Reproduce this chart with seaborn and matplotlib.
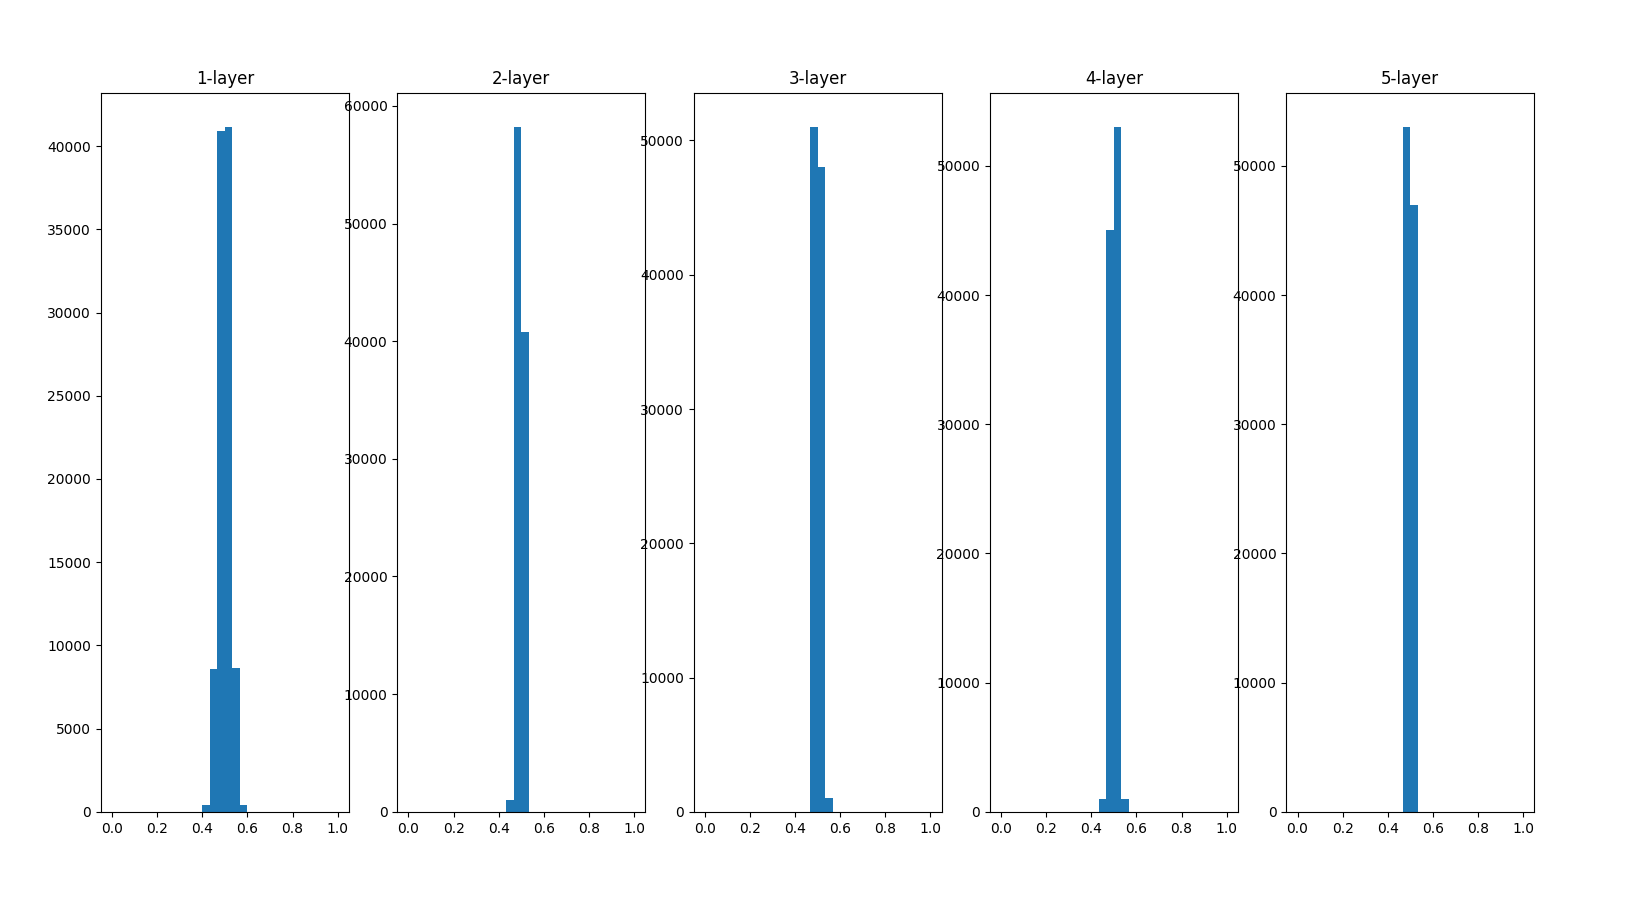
import matplotlib
matplotlib.use("Agg")
import matplotlib.pyplot as plt
import seaborn as sns
import numpy as np

plt.rcParams['font.family'] = ['DejaVu Sans']

titles = ["1-layer", "2-layer", "3-layer", "4-layer", "5-layer"]
bin_w = 1/30
# bin indices (0..29) of nonzero bins and their counts
bins_idx = [
    [12, 13, 14, 15, 16, 17],
    [13, 14, 15],
    [14, 15, 16],
    [13, 14, 15, 16],
    [14, 15],
]
counts = [
    [400, 8600, 40900, 41150, 8650, 400],
    [1000, 58200, 40800],
    [51000, 48000, 1000],
    [1000, 45000, 53000, 1000],
    [53000, 47000],
]

fig, axes = plt.subplots(1, 5, figsize=(16.27, 9.01), dpi=100)
fig.subplots_adjust(left=0.062, right=0.943, bottom=0.099, top=0.897, wspace=0.195)
for ax, t, bi, c in zip(axes, titles, bins_idx, counts):
    centers = [(i + 0.5) * bin_w for i in bi]
    sns.histplot(x=centers, weights=c, bins=30, binrange=(0, 1), ax=ax,
                 color="#1f77b4", alpha=1, edgecolor="none", linewidth=0)
    ax.set_title(t)
    ax.set_ylabel("")
    ax.set_xticks([0, 0.2, 0.4, 0.6, 0.8, 1.0])
fig.savefig("out.png")
